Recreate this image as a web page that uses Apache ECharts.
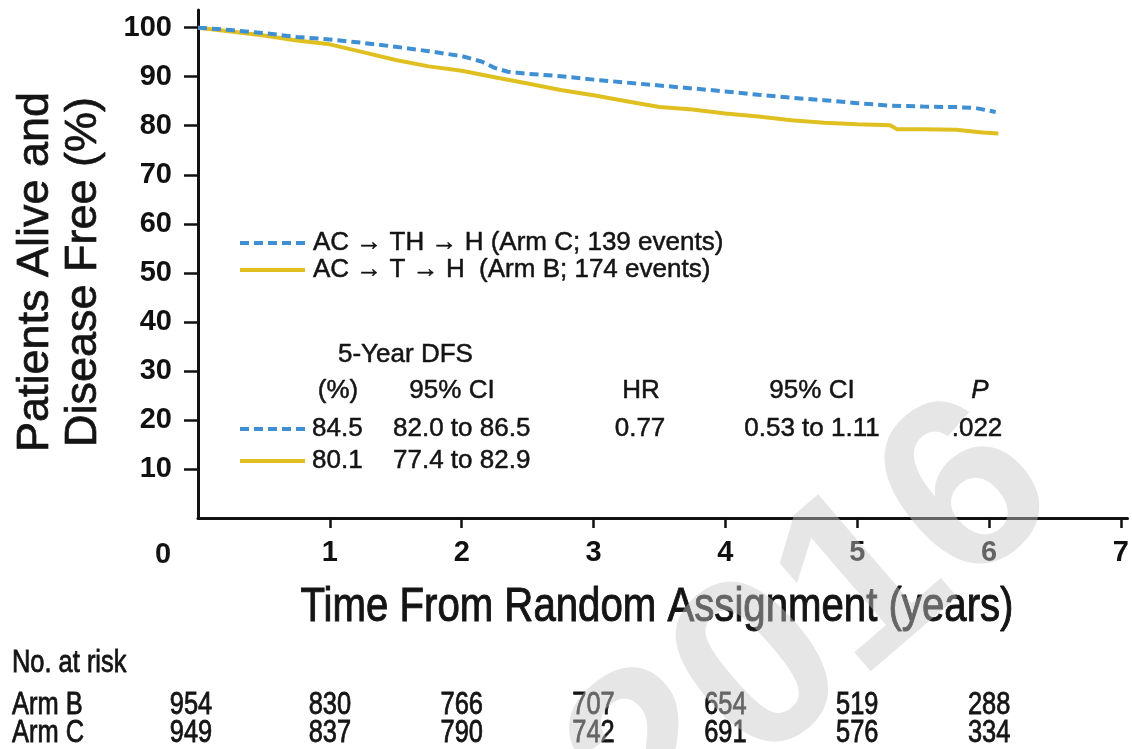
<!DOCTYPE html>
<html>
<head>
<meta charset="utf-8">
<script src="https://cdn.jsdelivr.net/npm/echarts@6/dist/echarts.min.js"></script>
<style>
  html, body { margin: 0; padding: 0; background: #ffffff; }
  #chart { width: 1132px; height: 749px; }
</style>
</head>
<body>
<div id="chart"></div>
<script>
// Kaplan-Meier disease-free survival, two trial arms
const armCName = 'AC \u2192 TH \u2192 H (Arm C; 139 events)';
const armBName = 'AC \u2192 T \u2192 H  (Arm B; 174 events)';

// [years, % alive and disease free]
const armC = [
  [0, 100], [0.25, 99.5], [0.5, 98.9], [0.75, 98.1], [1.0, 97.6], [1.25, 96.9],
  [1.5, 96.1], [1.75, 95.2], [2.0, 94.2], [2.15, 93.1], [2.25, 91.8], [2.35, 91.0],
  [2.5, 90.6], [2.75, 90.1], [3.0, 89.4], [3.25, 88.8], [3.5, 88.2], [3.75, 87.6],
  [4.0, 87.0], [4.25, 86.3], [4.5, 85.7], [4.75, 85.2], [5.0, 84.6], [5.25, 84.1],
  [5.5, 83.9], [5.75, 83.8], [5.9, 83.6], [6.05, 82.8]
];
const armB = [
  [0, 100], [0.25, 99.2], [0.5, 98.4], [0.75, 97.4], [1.0, 96.6], [1.25, 95.0],
  [1.5, 93.4], [1.75, 92.1], [2.0, 91.2], [2.25, 89.9], [2.5, 88.6], [2.75, 87.3],
  [3.0, 86.2], [3.25, 85.0], [3.5, 83.8], [3.75, 83.3], [4.0, 82.5], [4.25, 81.9],
  [4.5, 81.1], [4.75, 80.6], [5.0, 80.3], [5.25, 80.1], [5.3, 79.3], [5.5, 79.3],
  [5.75, 79.2], [5.95, 78.6], [6.07, 78.4]
];

const xTicks = [1, 2, 3, 4, 5, 6, 7];
const yTicks = [10, 20, 30, 40, 50, 60, 70, 80, 90, 100];

// Number at risk table
const riskYears = [0, 1, 2, 3, 4, 5, 6];
const riskArmB = [954, 830, 766, 707, 654, 519, 288];
const riskArmC = [949, 837, 790, 742, 691, 576, 334];

// Summary statistics block
const dfsTitle = '5-Year DFS';
const dfsHeader = ['(%)', '95% CI', 'HR', '95% CI', 'P'];
const dfsArmC = ['84.5', '82.0 to 86.5', '0.77', '0.53 to 1.11', '.022'];
const dfsArmB = ['80.1', '77.4 to 82.9'];

const BLUE = '#3f8fd2';
const GOLD = '#e0c020';
const INK = '#141414';
const SANS = '"Liberation Sans", Arial, sans-serif';
const NARROW_SCALE = 0.82;   // condensed look for the time axis title and risk table

const chart = echarts.init(document.getElementById('chart'), null, { renderer: 'canvas' });

const option = {
  backgroundColor: '#ffffff',
  animation: false,
  grid: { left: 198, top: 10, width: 932, height: 508 },
  xAxis: {
    type: 'value', min: 0, max: 7.05,
    axisLine: { show: true, onZero: false, lineStyle: { color: '#111', width: 3 } },
    axisTick: { show: true, length: 10, customValues: xTicks, lineStyle: { color: '#111', width: 2.5 } },
    axisLabel: { customValues: xTicks, margin: 20, fontSize: 29, fontWeight: 'bold', fontFamily: SANS, color: '#111' },
    splitLine: { show: false }
  },
  yAxis: {
    type: 'value', min: 0, max: 103.6,
    axisLine: { show: true, onZero: false, lineStyle: { color: '#111', width: 3 } },
    axisTick: { show: true, length: 14, customValues: yTicks, lineStyle: { color: '#111', width: 2.5 } },
    axisLabel: { customValues: yTicks, margin: 26, fontSize: 29, fontWeight: 'bold', fontFamily: SANS, color: '#111' },
    splitLine: { show: false }
  },
  series: [
    {
      name: armCName, type: 'line', data: armC, symbol: 'none', z: 3,
      lineStyle: { color: BLUE, width: 4, type: [9, 5] }
    },
    {
      name: armBName, type: 'line', data: armB, symbol: 'none', z: 2,
      lineStyle: { color: GOLD, width: 4 }
    }
  ]
};
chart.setOption(option);

// Text element; `weight` adds a thin outline to darken the regular face
function txt(x, y, text, font, align, opts) {
  opts = opts || {};
  const el = {
    type: 'text', x: x, y: y, silent: true,
    style: { text: text, font: font, fill: INK, align: align || 'left', verticalAlign: 'middle' }
  };
  if (opts.weight) { el.style.stroke = INK; el.style.lineWidth = opts.weight; }
  if (opts.scaleX) el.scaleX = opts.scaleX;
  if (opts.rotation) el.rotation = opts.rotation;
  if (opts.lineHeight) el.style.lineHeight = opts.lineHeight;
  return el;
}
function sample(y, color, dashed) {
  return {
    type: 'line', silent: true,
    shape: { x1: 240, y1: y, x2: 305, y2: y },
    style: { stroke: color, lineWidth: 4, lineDash: dashed ? [9, 5] : null }
  };
}

const statFont = '26px ' + SANS;
const statOpts = { weight: 0.5 };
const tableFont = '31px ' + SANS;
const tableOpts = { scaleX: NARROW_SCALE, weight: 0.8 };
const g = [];

// Axis titles
g.push(txt(60, 272, 'Patients Alive and\nDisease Free (%)', '45px ' + SANS, 'center',
  { rotation: Math.PI / 2, lineHeight: 48, weight: 0.7 }));
g.push(txt(657, 607, 'Time From Random Assignment (years)', '49px ' + SANS, 'center',
  { scaleX: NARROW_SCALE, weight: 1 }));

// Shared origin label
const origin = chart.convertToPixel({ gridIndex: 0 }, [0, 0]);
g.push(txt(origin[0] - 35, origin[1] + 37, '0', 'bold 29px ' + SANS, 'center'));

// Series key
g.push(sample(243, BLUE, true));
g.push(sample(270, GOLD, false));
g.push(txt(313, 243, armCName, statFont, 'left', statOpts));
g.push(txt(313, 270, armBName, statFont, 'left', statOpts));

// Statistics block
g.push(txt(338, 355, dfsTitle, statFont, 'left', statOpts));
const headX = [338, 452, 641, 812, 980];
dfsHeader.forEach((h, i) => {
  const f = h === 'P' ? 'italic 26px ' + SANS : statFont;
  g.push(txt(headX[i], 391, h, f, 'center', statOpts));
});
g.push(sample(429, BLUE, true));
g.push(sample(461, GOLD, false));
g.push(txt(312, 429, dfsArmC[0], statFont, 'left', statOpts));
g.push(txt(393, 429, dfsArmC[1], statFont, 'left', statOpts));
g.push(txt(640, 429, dfsArmC[2], statFont, 'center', statOpts));
g.push(txt(812, 429, dfsArmC[3], statFont, 'center', statOpts));
g.push(txt(977, 429, dfsArmC[4], statFont, 'center', statOpts));
g.push(txt(312, 461, dfsArmB[0], statFont, 'left', statOpts));
g.push(txt(393, 461, dfsArmB[1], statFont, 'left', statOpts));

// Number at risk table
g.push(txt(12, 663, 'No. at risk', tableFont, 'left', tableOpts));
g.push(txt(12, 705, 'Arm B', tableFont, 'left', tableOpts));
g.push(txt(12, 733, 'Arm C', tableFont, 'left', tableOpts));
riskYears.forEach((yr, i) => {
  let px = chart.convertToPixel({ xAxisIndex: 0 }, yr);
  if (yr === 0) px -= 7;
  g.push(txt(px, 705, String(riskArmB[i]), tableFont, 'center', tableOpts));
  g.push(txt(px, 733, String(riskArmC[i]), tableFont, 'center', tableOpts));
});

// Publication year watermark
g.push({
  type: 'text', x: 815, y: 630, rotation: 0.71, silent: true, z: 100,
  style: { text: '2016', font: 'bold 245px ' + SANS, fill: 'rgba(200,200,200,0.45)', align: 'center', verticalAlign: 'middle' }
});

chart.setOption({ graphic: g });
</script>
</body>
</html>
